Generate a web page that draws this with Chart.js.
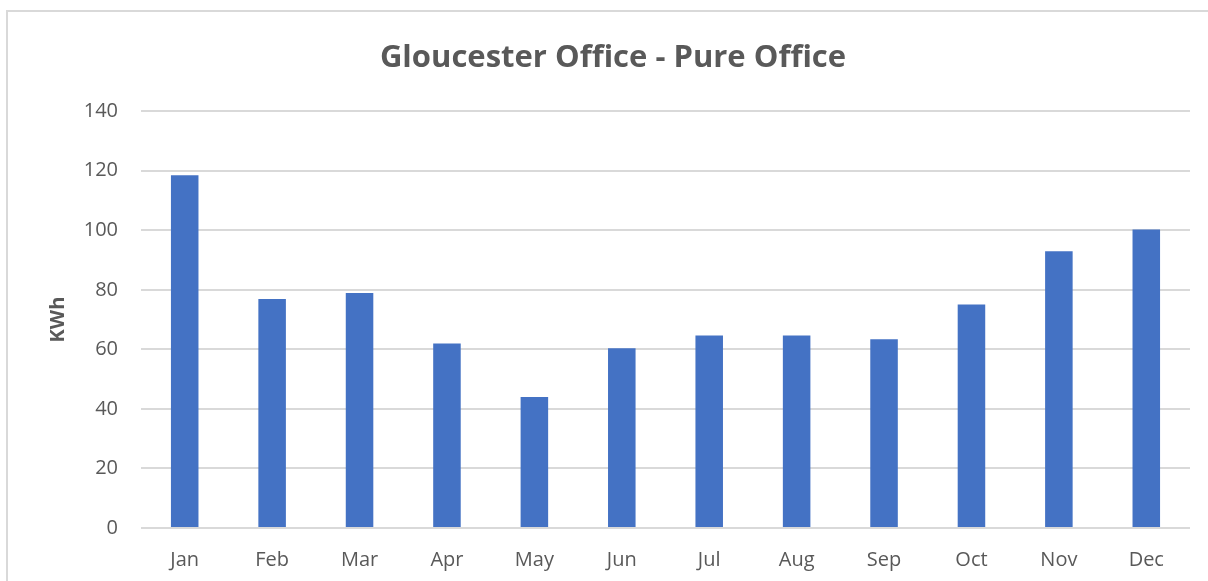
<!DOCTYPE html>
<html>
<head>
<meta charset="utf-8">
<script src="https://cdn.jsdelivr.net/npm/chart.js@4/dist/chart.umd.min.js"></script>
<style>
  html, body { margin: 0; padding: 0; background: #ffffff; overflow: hidden; }
  #wrap { position: relative; width: 1208px; height: 581px; }
  #frame { position: absolute; left: 6px; top: 10px; width: 1400px; height: 800px; border: 2px solid #d9d9d9; box-sizing: border-box; }
  canvas { position: absolute; left: 0; top: 0; }
</style>
</head>
<body>
<div id="wrap">
  <div id="frame"></div>
  <canvas id="c" width="1208" height="581"></canvas>
</div>
<script>
const chartTitle = "Gloucester Office - Pure Office";
const yAxisTitle = "KWh";
const months = ["Jan", "Feb", "Mar", "Apr", "May", "Jun", "Jul", "Aug", "Sep", "Oct", "Nov", "Dec"];
const kwh = [118.5, 76.9, 78.9, 62.0, 44.0, 60.4, 64.7, 64.7, 63.4, 75.1, 93.0, 100.3];
const yMin = 0;
const yMax = 140;
const yStep = 20;

const FONT = "'Open Sans', Lato, 'Liberation Sans', sans-serif";
const TEXT = "#595959";
const GRID = "#d9d9d9";

new Chart(document.getElementById("c"), {
  type: "bar",
  data: {
    labels: months,
    datasets: [{
      label: yAxisTitle,
      data: kwh,
      backgroundColor: "#4472C4",
      borderWidth: 0,
      barPercentage: 0.315,
      categoryPercentage: 1.0
    }]
  },
  options: {
    responsive: false,
    animation: false,
    devicePixelRatio: 1,
    layout: { padding: { left: 36, right: 18, top: 0, bottom: 0 } },
    plugins: {
      legend: { display: false },
      tooltip: { enabled: false },
      title: {
        display: true,
        text: chartTitle,
        color: TEXT,
        font: { family: FONT, size: 31, weight: "bold" },
        padding: { top: 40, bottom: 34 }
      }
    },
    scales: {
      x: {
        grid: { display: false, drawTicks: false },
        border: { display: false },
        ticks: { color: TEXT, font: { family: FONT, size: 20 }, padding: 20, maxRotation: 0 },
        afterFit: (s) => { s.height = 53; }
      },
      y: {
        min: yMin,
        max: yMax,
        grid: { color: GRID, lineWidth: 2, drawTicks: false },
        border: { display: false },
        ticks: { stepSize: yStep, color: TEXT, font: { family: FONT, size: 20 }, padding: 23 },
        title: {
          display: true,
          text: yAxisTitle,
          color: TEXT,
          font: { family: FONT, size: 20, weight: "bold" },
          padding: { top: 10, bottom: 0 }
        },
        afterFit: (s) => { s.width = 105; }
      }
    }
  }
});
</script>
</body>
</html>
